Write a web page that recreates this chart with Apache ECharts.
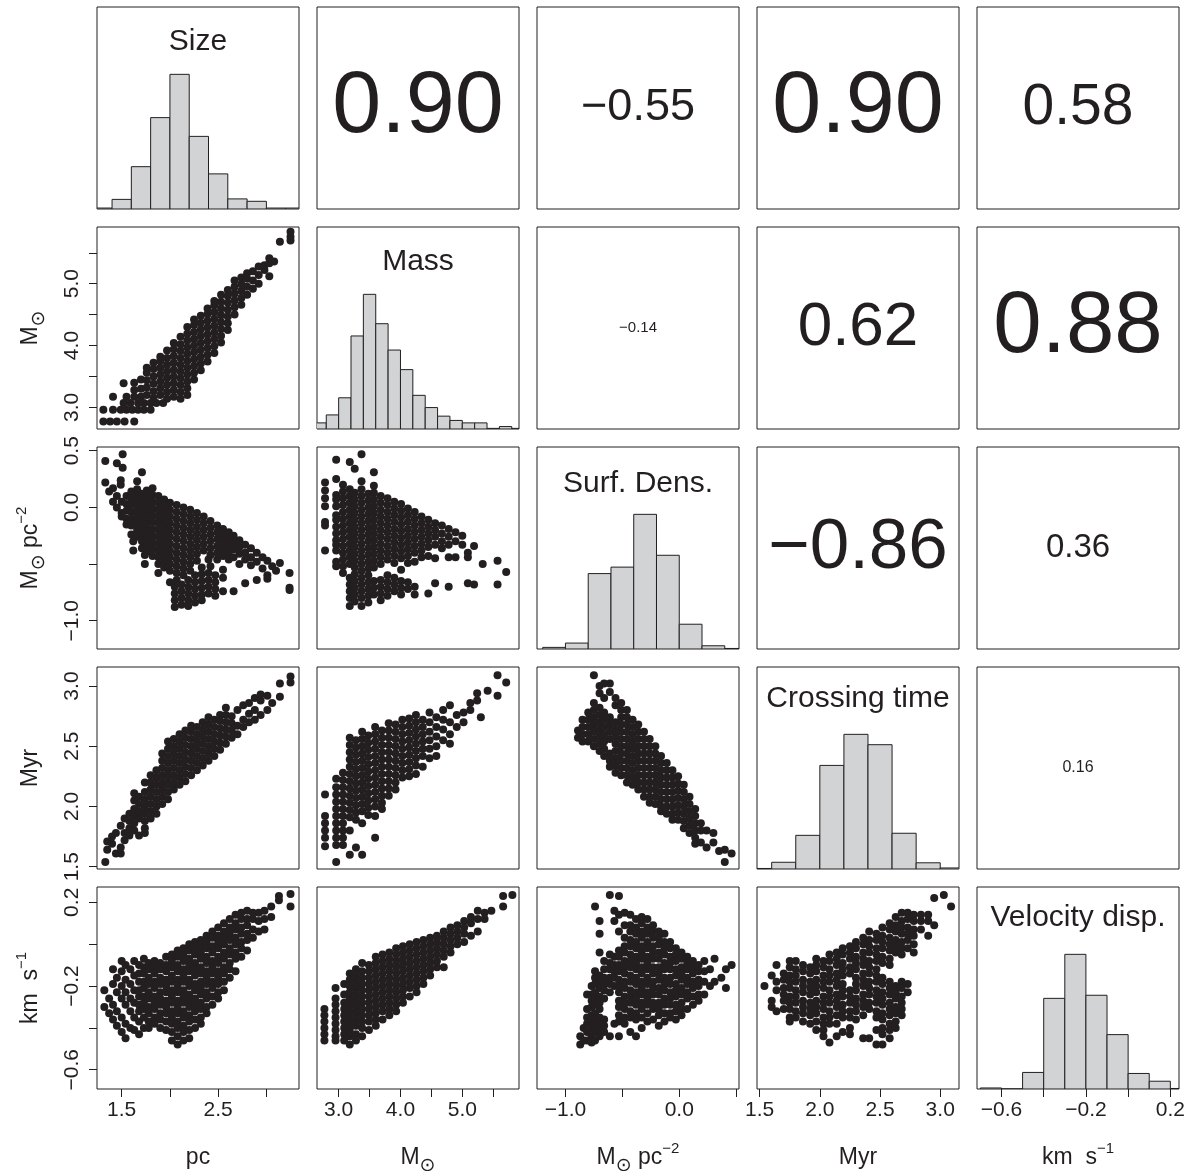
<!DOCTYPE html>
<html>
<head>
<meta charset="utf-8">
<script src="https://cdn.jsdelivr.net/npm/echarts@6/dist/echarts.min.js"></script>
<style>
  html, body { margin: 0; padding: 0; background: #fff; }
  #chart { width: 1187px; height: 1171px; }
</style>
</head>
<body>
<div id="chart"></div>
<script>
// ---- data ----
const varNames = ['Size', 'Mass', 'Surf. Dens.', 'Crossing time', 'Velocity disp.'];

// axis value ranges (x along columns, y along rows)
const xRanges = [[1.244, 3.338], [2.65, 5.917], [-1.25, 0.525], [1.478, 3.156], [-0.716, 0.241]];
const yRanges = [[1.244, 3.338], [2.65, 5.917], [-1.25, 0.533], [1.481, 3.158], [-0.692, 0.273]];

const tickValues = [[1.5, 2, 2.5, 3], [3, 3.5, 4, 4.5, 5, 5.5], [-1, -0.5, 0, 0.5], [1.5, 2, 2.5, 3], [-0.6, -0.4, -0.2, 0, 0.2]];
const xTickLabels = [[1.5, 2.5], [3, 4, 5], [-1, 0], [1.5, 2, 2.5, 3], [-0.6, -0.2, 0.2]];
const yTickLabels = [[], [3, 4, 5], [-1, 0, 0.5], [1.5, 2, 2.5, 3], [-0.6, -0.2, 0.2]];

// histograms on the diagonal
const sizeEdges = [1.2, 1.4, 1.6, 1.8, 2.0, 2.2, 2.4, 2.6, 2.8, 3.0, 3.2, 3.4];
const sizeCounts = [2, 20, 88, 190, 280, 151, 73, 21, 16, 2, 2];
const massEdges = [2.6, 2.8, 3.0, 3.2, 3.4, 3.6, 3.8, 4.0, 4.2, 4.4, 4.6, 4.8, 5.0, 5.2, 5.4, 5.6, 5.8, 6.0];
const massCounts = [10, 23, 51, 152, 220, 172, 129, 97, 55, 35, 21, 14, 10, 10, 1, 4, 1];
const surfEdges = [-1.2, -1.0, -0.8, -0.6, -0.4, -0.2, 0.0, 0.2, 0.4, 0.6];
const surfCounts = [3, 11, 140, 152, 250, 174, 46, 6, 1];
const crossEdges = [1.4, 1.6, 1.8, 2.0, 2.2, 2.4, 2.6, 2.8, 3.0, 3.2];
const crossCounts = [1, 13, 65, 200, 260, 240, 69, 12, 2];
const velEdges = [-0.7, -0.6, -0.5, -0.4, -0.3, -0.2, -0.1, 0.0, 0.1, 0.2, 0.3];
const velCounts = [2, 0, 32, 175, 260, 181, 105, 30, 15, 1];

// correlation coefficients in the upper panels: [row, col, text]
const corrCells = [
  [0, 1, '0.90'], [0, 2, '−0.55'], [0, 3, '0.90'], [0, 4, '0.58'],
  [1, 2, '−0.14'], [1, 3, '0.62'], [1, 4, '0.88'],
  [2, 3, '−0.86'], [2, 4, '0.36'],
  [3, 4, '0.16']
];

// scatter points, written as columns: [x, y1, y2, ...]
const sizeMass = [
  [1.31, 2.77, 2.96], [1.38, 2.77], [1.41, 2.96, 3.17], [1.45, 2.77], [1.49, 2.96],
  [1.52, 3.07, 3.39], [1.53, 2.77], [1.55, 2.96, 3.17], [1.59, 3.07], [1.61, 2.96],
  [1.63, 2.77, 3.17, 3.28, 3.40], [1.67, 2.96, 3.07], [1.70, 3.17, 3.30, 3.45], [1.73, 2.96, 3.07],
  [1.76, 3.20, 3.32, 3.44, 3.56, 3.64], [1.80, 2.96, 3.07], [1.83, 3.15, 3.26, 3.38, 3.50, 3.62, 3.72],
  [1.86, 3.07], [1.90, 3.20, 3.31, 3.42, 3.53, 3.64, 3.75, 3.82], [1.93, 3.07],
  [1.97, 3.14, 3.25, 3.36, 3.47, 3.58, 3.69, 3.80, 3.92],
  [2.04, 3.17, 3.28, 3.39, 3.50, 3.61, 3.72, 3.83, 3.94, 4.04],
  [2.11, 3.14, 3.25, 3.36, 3.47, 3.58, 3.69, 3.80, 3.91, 4.02, 4.14],
  [2.18, 3.20, 3.31, 3.42, 3.53, 3.64, 3.75, 3.86, 3.97, 4.08, 4.19, 4.30],
  [2.25, 3.45, 3.56, 3.67, 3.78, 3.89, 4.00, 4.11, 4.22, 4.33, 4.42],
  [2.32, 3.60, 3.71, 3.82, 3.93, 4.04, 4.15, 4.26, 4.37, 4.48],
  [2.39, 3.74, 3.85, 3.96, 4.07, 4.18, 4.29, 4.40, 4.51, 4.60],
  [2.46, 3.88, 3.99, 4.10, 4.21, 4.32, 4.43, 4.54, 4.65, 4.72],
  [2.53, 4.05, 4.16, 4.27, 4.38, 4.49, 4.60, 4.71, 4.82],
  [2.60, 4.25, 4.36, 4.47, 4.58, 4.69, 4.80, 4.90],
  [2.67, 4.50, 4.62, 4.73, 4.84, 4.95, 5.05],
  [2.74, 4.66, 4.77, 4.88, 4.99, 5.10],
  [2.80, 4.82, 4.95, 5.08, 5.17], [2.86, 4.92, 5.05, 5.20], [2.92, 5.00, 5.14, 5.28],
  [2.98, 5.22, 5.30], [3.03, 5.12, 5.33, 5.41], [3.08, 5.36], [3.14, 5.68], [3.25, 5.70, 5.76, 5.84]
];

const sizeSurf = [
  [1.33, 0.41, 0.22], [1.37, 0.14], [1.41, 0.17, 0.05], [1.45, 0.39, 0.10, 0.00], [1.49, 0.24, 0.20],
  [1.51, 0.47, 0.35], [1.50, 0.05, -0.05, -0.08], [1.55, 0.10, 0.03, -0.03, -0.10, -0.15],
  [1.60, 0.14, 0.08, 0.02, -0.04, -0.10, -0.16, -0.24], [1.62, -0.30, -0.38],
  [1.66, 0.23, 0.16, 0.10, 0.04, -0.02, -0.08, -0.14, -0.20, -0.26],
  [1.71, 0.31, 0.12, 0.06, 0.00, -0.06, -0.12, -0.18, -0.24, -0.30, -0.36], [1.74, -0.42, -0.50],
  [1.76, 0.15, 0.09, 0.03, -0.03, -0.09, -0.15, -0.21, -0.27, -0.33, -0.39],
  [1.82, 0.17, 0.11, 0.05, -0.01, -0.07, -0.13, -0.19, -0.25, -0.31, -0.37, -0.43],
  [1.88, 0.10, 0.04, -0.02, -0.08, -0.14, -0.20, -0.26, -0.32, -0.38, -0.44, -0.50, -0.58],
  [1.94, 0.07, 0.01, -0.05, -0.11, -0.17, -0.23, -0.29, -0.35, -0.41, -0.47, -0.53],
  [2.00, 0.04, -0.02, -0.08, -0.14, -0.20, -0.26, -0.32, -0.38, -0.44, -0.50, -0.56, -0.66],
  [2.05, -0.70, -0.76, -0.82, -0.88],
  [2.07, 0.02, -0.04, -0.10, -0.16, -0.22, -0.28, -0.34, -0.40, -0.46, -0.52, -0.58, -0.64],
  [2.12, -0.68, -0.74, -0.80, -0.86],
  [2.14, 0.00, -0.06, -0.12, -0.18, -0.24, -0.30, -0.36, -0.42, -0.48, -0.54, -0.60],
  [2.19, -0.64, -0.70, -0.76, -0.82, -0.87],
  [2.21, -0.02, -0.08, -0.14, -0.20, -0.26, -0.32, -0.38, -0.44, -0.50, -0.56],
  [2.26, -0.60, -0.66, -0.72, -0.78, -0.84],
  [2.28, -0.05, -0.11, -0.17, -0.23, -0.29, -0.35, -0.41, -0.47],
  [2.33, -0.53, -0.59, -0.65, -0.71, -0.77, -0.82],
  [2.35, -0.08, -0.14, -0.20, -0.26, -0.32, -0.38],
  [2.40, -0.46, -0.58, -0.64, -0.70, -0.76],
  [2.42, -0.12, -0.18, -0.24, -0.30, -0.36, -0.42, -0.52],
  [2.47, -0.60, -0.66, -0.72, -0.78],
  [2.49, -0.16, -0.22, -0.28, -0.34, -0.40, -0.46],
  [2.55, -0.19, -0.25, -0.31, -0.37, -0.43, -0.55, -0.62, -0.74],
  [2.61, -0.22, -0.28, -0.34, -0.40, -0.46], [2.66, -0.25, -0.31, -0.37, -0.44, -0.74],
  [2.72, -0.29, -0.35, -0.41, -0.50], [2.78, -0.33, -0.40, -0.46, -0.67], [2.84, -0.36, -0.44, -0.51],
  [2.90, -0.40, -0.48, -0.64], [2.96, -0.44, -0.54], [3.01, -0.47, -0.60, -0.63], [3.06, -0.52],
  [3.10, -0.56], [3.14, -0.49], [3.24, -0.58, -0.71, -0.73]
];

const sizeCross = [
  [1.33, 1.54], [1.35, 1.64, 1.71], [1.40, 1.69, 1.75], [1.44, 1.61, 1.78], [1.49, 1.61, 1.66, 1.84],
  [1.53, 1.72, 1.78, 1.90], [1.58, 1.76, 1.82, 1.88, 1.94], [1.63, 1.80, 1.86, 1.92, 1.98, 2.05, 2.11],
  [1.68, 1.76, 1.90, 1.96, 2.02, 2.08], [1.74, 1.78, 1.82, 1.88, 1.94, 2.00, 2.06, 2.12, 2.20],
  [1.80, 1.90, 1.96, 2.02, 2.08, 2.14, 2.20, 2.26], [1.86, 1.94, 2.00, 2.06, 2.12, 2.18, 2.24, 2.30],
  [1.92, 2.02, 2.08, 2.14, 2.20, 2.26, 2.32, 2.38, 2.44],
  [1.98, 2.06, 2.12, 2.18, 2.24, 2.30, 2.36, 2.42, 2.48, 2.54],
  [2.04, 2.14, 2.20, 2.26, 2.32, 2.38, 2.44, 2.50, 2.56],
  [2.10, 2.18, 2.24, 2.30, 2.36, 2.42, 2.48, 2.54, 2.60],
  [2.16, 2.21, 2.27, 2.33, 2.39, 2.45, 2.51, 2.57, 2.63],
  [2.22, 2.26, 2.32, 2.38, 2.44, 2.50, 2.56, 2.62, 2.67],
  [2.28, 2.30, 2.36, 2.42, 2.48, 2.54, 2.60, 2.66], [2.34, 2.34, 2.40, 2.46, 2.52, 2.58, 2.64, 2.70],
  [2.40, 2.38, 2.44, 2.50, 2.56, 2.62, 2.68, 2.74], [2.46, 2.42, 2.48, 2.54, 2.60, 2.66, 2.72],
  [2.52, 2.47, 2.53, 2.59, 2.65, 2.71, 2.76], [2.58, 2.52, 2.58, 2.64, 2.70, 2.76, 2.82],
  [2.64, 2.57, 2.63, 2.69, 2.75], [2.70, 2.60, 2.67, 2.80], [2.76, 2.66, 2.72, 2.84],
  [2.82, 2.70, 2.77, 2.86], [2.88, 2.72, 2.80, 2.90], [2.94, 2.76, 2.88, 2.93], [3.01, 2.80, 2.92],
  [3.06, 2.86], [3.14, 2.91, 3.02], [3.25, 3.03, 3.08]
];

const sizeVel = [
  [1.32, -0.22, -0.30], [1.37, -0.26, -0.33], [1.41, -0.12, -0.19, -0.29, -0.36],
  [1.45, -0.16, -0.23, -0.32, -0.39], [1.50, -0.08, -0.13, -0.20, -0.26, -0.35, -0.42],
  [1.54, -0.10, -0.17, -0.23, -0.29, -0.38, -0.45], [1.59, -0.12, -0.19, -0.26, -0.32, -0.40],
  [1.63, -0.08, -0.15, -0.22, -0.28, -0.35, -0.41],
  [1.68, -0.10, -0.14, -0.18, -0.22, -0.25, -0.29, -0.32, -0.37, -0.43],
  [1.73, -0.07, -0.11, -0.14, -0.18, -0.21, -0.25, -0.28, -0.31, -0.35, -0.40],
  [1.78, -0.09, -0.12, -0.16, -0.19, -0.23, -0.26, -0.30, -0.33, -0.37, -0.40],
  [1.84, -0.08, -0.11, -0.14, -0.18, -0.21, -0.25, -0.28, -0.31, -0.35, -0.38],
  [1.90, -0.09, -0.12, -0.16, -0.19, -0.23, -0.26, -0.29, -0.33, -0.36, -0.40],
  [1.96, -0.06, -0.10, -0.13, -0.17, -0.20, -0.23, -0.27, -0.30, -0.33, -0.37, -0.41],
  [2.02, -0.05, -0.08, -0.11, -0.15, -0.18, -0.22, -0.25, -0.28, -0.32, -0.35, -0.38, -0.42, -0.46],
  [2.08, -0.03, -0.06, -0.10, -0.13, -0.17, -0.20, -0.23, -0.27, -0.30, -0.33, -0.37, -0.40, -0.44, -0.48],
  [2.14, -0.02, -0.05, -0.08, -0.12, -0.15, -0.18, -0.22, -0.25, -0.28, -0.32, -0.35, -0.39, -0.42, -0.46],
  [2.20, 0.00, -0.03, -0.07, -0.10, -0.13, -0.17, -0.20, -0.24, -0.27, -0.30, -0.34, -0.37, -0.41, -0.45],
  [2.26, 0.01, -0.02, -0.05, -0.09, -0.12, -0.15, -0.19, -0.22, -0.26, -0.29, -0.32, -0.36, -0.40],
  [2.32, 0.02, -0.01, -0.04, -0.07, -0.11, -0.14, -0.18, -0.21, -0.24, -0.28, -0.31, -0.35, -0.38],
  [2.38, 0.04, 0.01, -0.02, -0.06, -0.09, -0.13, -0.16, -0.19, -0.23, -0.26, -0.30, -0.33],
  [2.44, 0.06, 0.03, -0.01, -0.04, -0.08, -0.11, -0.14, -0.18, -0.21, -0.25, -0.29],
  [2.50, 0.08, 0.04, 0.01, -0.02, -0.06, -0.09, -0.13, -0.16, -0.19, -0.23, -0.26],
  [2.56, 0.10, 0.06, 0.03, 0.00, -0.04, -0.07, -0.11, -0.14, -0.18, -0.22],
  [2.62, 0.12, 0.08, 0.05, 0.02, -0.02, -0.05, -0.09, -0.12, -0.16],
  [2.68, 0.14, 0.10, 0.07, 0.03, 0.00, -0.04, -0.07, -0.13],
  [2.74, 0.15, 0.12, 0.08, 0.05, 0.01, -0.02, -0.06],
  [2.80, 0.16, 0.12, 0.09, 0.05, 0.02, -0.03], [2.86, 0.15, 0.12, 0.07, 0.03],
  [2.92, 0.15, 0.11, 0.06], [2.98, 0.16, 0.12, 0.07], [3.05, 0.18, 0.13], [3.13, 0.23, 0.21], [3.25, 0.24, 0.18]
];

const massSurf = [
  [2.78, 0.22, 0.15, 0.08, 0.01, -0.13, -0.16, -0.38],
  [2.96, 0.42, 0.25, 0.11, 0.07, 0.01, -0.07, -0.11, -0.17, -0.23, -0.29, -0.33, -0.38, -0.48, -0.52],
  [3.07, 0.20, 0.14, 0.08, 0.02, -0.04, -0.10, -0.16, -0.22, -0.28, -0.34, -0.40, -0.46, -0.52, -0.58],
  [3.18, 0.40, 0.16, 0.10, 0.04, -0.02, -0.08, -0.14, -0.20, -0.26, -0.32, -0.38, -0.44, -0.50, -0.62, -0.68, -0.74, -0.80, -0.87],
  [3.26, 0.34, 0.13, 0.07, 0.01, -0.05, -0.11, -0.17, -0.23, -0.29, -0.35, -0.41, -0.47, -0.53, -0.59, -0.65, -0.71, -0.77, -0.83],
  [3.37, 0.47, 0.23, 0.16, 0.10, 0.04, -0.02, -0.08, -0.14, -0.20, -0.26, -0.32, -0.38, -0.44, -0.50, -0.56, -0.62, -0.68, -0.74, -0.80, -0.87],
  [3.48, 0.12, 0.06, 0.00, -0.06, -0.12, -0.18, -0.24, -0.30, -0.36, -0.42, -0.48, -0.54, -0.60, -0.66, -0.72, -0.78, -0.84],
  [3.57, 0.31, 0.19, 0.13, 0.07, 0.01, -0.05, -0.11, -0.17, -0.23, -0.29, -0.35, -0.41, -0.47, -0.53, -0.65, -0.71, -0.77],
  [3.68, 0.10, 0.04, -0.02, -0.08, -0.14, -0.20, -0.26, -0.32, -0.38, -0.44, -0.50, -0.64, -0.70, -0.76, -0.82],
  [3.79, 0.08, 0.02, -0.04, -0.10, -0.16, -0.22, -0.28, -0.34, -0.40, -0.46, -0.60, -0.66, -0.72, -0.78],
  [3.90, 0.05, -0.01, -0.07, -0.13, -0.19, -0.25, -0.31, -0.37, -0.43, -0.49, -0.62, -0.68, -0.74],
  [4.01, 0.03, -0.03, -0.09, -0.15, -0.21, -0.27, -0.33, -0.39, -0.45, -0.55, -0.65, -0.71, -0.77],
  [4.12, -0.01, -0.07, -0.13, -0.19, -0.25, -0.31, -0.37, -0.43, -0.49, -0.66, -0.72],
  [4.23, -0.04, -0.10, -0.16, -0.22, -0.28, -0.34, -0.40, -0.48, -0.70, -0.77],
  [4.34, -0.08, -0.14, -0.20, -0.26, -0.32, -0.38, -0.44],
  [4.45, -0.11, -0.17, -0.23, -0.29, -0.35, -0.43, -0.76],
  [4.56, -0.14, -0.20, -0.26, -0.33, -0.45, -0.67], [4.67, -0.16, -0.23, -0.30, -0.36],
  [4.78, -0.19, -0.26, -0.33, -0.44, -0.70], [4.89, -0.22, -0.30, -0.44], [5.00, -0.25, -0.33],
  [5.09, -0.40, -0.44, -0.67], [5.19, -0.34, -0.68], [5.33, -0.50], [5.57, -0.47, -0.68], [5.71, -0.57]
];

const massCross = [
  [2.78, 2.10, 1.92, 1.86, 1.80, 1.74, 1.67],
  [2.96, 2.23, 2.16, 2.10, 2.04, 1.98, 1.92, 1.86, 1.80, 1.74, 1.68, 1.54],
  [3.07, 2.28, 2.22, 2.16, 2.10, 2.04, 1.98, 1.92, 1.86, 1.80, 1.74, 1.68],
  [3.18, 2.57, 2.51, 2.45, 2.39, 2.33, 2.27, 2.21, 2.15, 2.09, 2.03, 1.97, 1.91, 1.80, 1.60],
  [3.28, 2.55, 2.49, 2.43, 2.37, 2.31, 2.25, 2.19, 2.13, 2.07, 2.01, 1.95, 1.89, 1.66],
  [3.38, 2.62, 2.56, 2.50, 2.44, 2.38, 2.32, 2.26, 2.20, 2.14, 2.08, 2.02, 1.96, 1.86, 1.60],
  [3.48, 2.59, 2.53, 2.47, 2.41, 2.35, 2.29, 2.23, 2.17, 2.11, 2.05, 1.99, 1.93],
  [3.59, 2.66, 2.60, 2.54, 2.48, 2.42, 2.36, 2.30, 2.24, 2.18, 2.12, 2.06, 2.00, 1.92, 1.74],
  [3.70, 2.63, 2.57, 2.51, 2.45, 2.39, 2.33, 2.27, 2.21, 2.15, 2.09, 2.03, 1.98],
  [3.81, 2.69, 2.63, 2.57, 2.51, 2.45, 2.39, 2.33, 2.27, 2.21, 2.15, 2.09],
  [3.92, 2.68, 2.62, 2.56, 2.50, 2.44, 2.38, 2.32, 2.26, 2.20, 2.14],
  [4.03, 2.72, 2.66, 2.60, 2.54, 2.48, 2.42, 2.36, 2.30, 2.24],
  [4.14, 2.73, 2.67, 2.61, 2.55, 2.49, 2.43, 2.37, 2.31, 2.25],
  [4.25, 2.76, 2.70, 2.64, 2.58, 2.52, 2.46, 2.40, 2.34, 2.27],
  [4.36, 2.72, 2.66, 2.60, 2.54, 2.48, 2.42, 2.33],
  [4.47, 2.78, 2.70, 2.62, 2.55, 2.48, 2.40], [4.58, 2.74, 2.66, 2.58, 2.50, 2.42],
  [4.69, 2.80, 2.72, 2.64, 2.55], [4.80, 2.84, 2.70, 2.60, 2.52], [4.91, 2.76, 2.66],
  [5.02, 2.78, 2.70], [5.13, 2.86, 2.80], [5.24, 2.94, 2.88], [5.30, 2.74], [5.41, 2.96],
  [5.57, 3.09, 2.92], [5.71, 3.03]
];

const massVel = [
  [2.77, -0.31, -0.34, -0.37, -0.40, -0.43, -0.46],
  [2.95, -0.21, -0.26, -0.29, -0.32, -0.35, -0.38, -0.41, -0.44, -0.46],
  [3.09, -0.19, -0.24, -0.28, -0.31, -0.34, -0.37, -0.40, -0.43, -0.46],
  [3.18, -0.14, -0.17, -0.20, -0.23, -0.26, -0.29, -0.32, -0.35, -0.38, -0.41, -0.44, -0.48],
  [3.28, -0.12, -0.15, -0.18, -0.21, -0.24, -0.27, -0.30, -0.33, -0.36, -0.39, -0.43, -0.46],
  [3.38, -0.09, -0.13, -0.16, -0.19, -0.22, -0.25, -0.28, -0.31, -0.34, -0.37, -0.40, -0.44],
  [3.49, -0.10, -0.13, -0.16, -0.19, -0.22, -0.25, -0.28, -0.31, -0.34, -0.37, -0.41],
  [3.60, -0.06, -0.09, -0.12, -0.15, -0.18, -0.21, -0.24, -0.27, -0.30, -0.33, -0.36, -0.39],
  [3.71, -0.05, -0.08, -0.11, -0.14, -0.17, -0.20, -0.23, -0.26, -0.29, -0.32, -0.36],
  [3.82, -0.04, -0.07, -0.10, -0.13, -0.16, -0.19, -0.22, -0.25, -0.28, -0.31, -0.34],
  [3.93, -0.02, -0.05, -0.08, -0.11, -0.14, -0.17, -0.20, -0.23, -0.26, -0.29, -0.32],
  [4.04, -0.01, -0.04, -0.07, -0.10, -0.13, -0.16, -0.19, -0.22, -0.25, -0.28],
  [4.15, 0.00, -0.03, -0.06, -0.09, -0.12, -0.15, -0.18, -0.21, -0.25],
  [4.26, 0.01, -0.02, -0.05, -0.08, -0.11, -0.14, -0.17, -0.20, -0.23],
  [4.37, 0.02, -0.01, -0.04, -0.07, -0.10, -0.13, -0.16, -0.19],
  [4.48, 0.03, 0.00, -0.03, -0.06, -0.09, -0.12, -0.15],
  [4.59, 0.04, 0.01, -0.02, -0.05, -0.08, -0.11], [4.70, 0.06, 0.03, 0.00, -0.03, -0.06, -0.11],
  [4.81, 0.08, 0.05, 0.02, -0.01, -0.04], [4.92, 0.09, 0.06, 0.03, 0.00], [5.03, 0.11, 0.08, 0.05, 0.01],
  [5.14, 0.13, 0.10, 0.04], [5.25, 0.16, 0.12, 0.06], [5.36, 0.15, 0.12], [5.47, 0.16],
  [5.66, 0.23, 0.18], [5.81, 0.235]
];

const surfCross = [
  [-0.89, 2.63, 2.57], [-0.85, 2.72, 2.66, 2.60, 2.54], [-0.80, 2.78, 2.72, 2.66, 2.60, 2.54],
  [-0.75, 3.09, 2.86, 2.80, 2.74, 2.68, 2.62, 2.56, 2.50],
  [-0.70, 3.00, 2.94, 2.82, 2.76, 2.70, 2.64, 2.58, 2.52, 2.46],
  [-0.66, 3.02, 2.90, 2.78, 2.72, 2.66, 2.60, 2.54, 2.48, 2.42],
  [-0.61, 3.02, 2.95, 2.74, 2.68, 2.62, 2.56, 2.44, 2.38, 2.33],
  [-0.56, 2.90, 2.84, 2.70, 2.64, 2.58, 2.52, 2.46, 2.40, 2.34, 2.28],
  [-0.51, 2.86, 2.80, 2.74, 2.68, 2.62, 2.56, 2.50, 2.44, 2.38, 2.32, 2.26],
  [-0.46, 2.80, 2.74, 2.68, 2.62, 2.56, 2.50, 2.44, 2.38, 2.32, 2.26, 2.20],
  [-0.41, 2.72, 2.66, 2.60, 2.54, 2.48, 2.42, 2.36, 2.30, 2.24, 2.18],
  [-0.36, 2.68, 2.62, 2.56, 2.50, 2.44, 2.38, 2.32, 2.26, 2.20, 2.14],
  [-0.31, 2.62, 2.56, 2.50, 2.44, 2.38, 2.32, 2.26, 2.20, 2.14, 2.08],
  [-0.26, 2.56, 2.50, 2.44, 2.38, 2.32, 2.26, 2.20, 2.14, 2.08, 2.03],
  [-0.21, 2.50, 2.44, 2.38, 2.32, 2.26, 2.20, 2.14, 2.08, 2.02],
  [-0.16, 2.42, 2.36, 2.30, 2.24, 2.18, 2.12, 2.06, 2.00, 1.96],
  [-0.11, 2.36, 2.30, 2.24, 2.18, 2.12, 2.06, 2.00, 1.94],
  [-0.06, 2.30, 2.24, 2.18, 2.12, 2.06, 2.00, 1.94, 1.89],
  [-0.01, 2.25, 2.19, 2.13, 2.07, 2.01, 1.95, 1.89],
  [0.04, 2.18, 2.12, 2.06, 2.00, 1.94, 1.88, 1.82],
  [0.09, 2.08, 2.02, 1.96, 1.90, 1.84, 1.78], [0.14, 1.98, 1.92, 1.86, 1.80, 1.74, 1.69],
  [0.19, 1.86, 1.80, 1.70], [0.24, 1.80, 1.66], [0.30, 1.78, 1.70], [0.35, 1.63],
  [0.40, 1.64, 1.54], [0.46, 1.61]
];

const surfVel = [
  [-0.87, -0.48, -0.44], [-0.84, -0.40, -0.46], [-0.81, -0.24, -0.31, -0.35, -0.38, -0.42, -0.46],
  [-0.77, -0.20, -0.24, -0.27, -0.30, -0.34, -0.37, -0.40, -0.44, -0.47],
  [-0.74, 0.18, -0.13, -0.16, -0.19, -0.23, -0.26, -0.29, -0.33, -0.36, -0.39, -0.42, -0.46],
  [-0.70, 0.11, 0.05, -0.04, -0.15, -0.18, -0.21, -0.25, -0.28, -0.31, -0.35, -0.38, -0.41, -0.44],
  [-0.66, -0.08, -0.12, -0.16, -0.19, -0.22, -0.26, -0.36, -0.39, -0.42],
  [-0.61, 0.235, -0.05, -0.09, -0.12, -0.16, -0.19, -0.23, -0.44],
  [-0.57, 0.16, 0.11, -0.06, -0.10, -0.13, -0.16, -0.20, -0.38],
  [-0.53, 0.23, 0.14, 0.06, -0.03, -0.06, -0.10, -0.13, -0.17, -0.20, -0.23, -0.27, -0.30, -0.34, -0.37, -0.44],
  [-0.48, 0.15, 0.09, 0.03, -0.01, -0.04, -0.08, -0.11, -0.14, -0.18, -0.21, -0.25, -0.28, -0.31, -0.35, -0.38],
  [-0.43, 0.14, 0.09, 0.06, 0.02, -0.01, -0.05, -0.08, -0.11, -0.15, -0.18, -0.22, -0.25, -0.28, -0.32, -0.35, -0.42],
  [-0.38, 0.12, 0.08, 0.05, 0.01, -0.02, -0.06, -0.09, -0.12, -0.16, -0.19, -0.23, -0.26, -0.29, -0.33, -0.36, -0.44],
  [-0.33, 0.13, 0.10, 0.06, 0.03, -0.01, -0.04, -0.07, -0.11, -0.14, -0.18, -0.21, -0.24, -0.28, -0.31, -0.35, -0.40],
  [-0.28, 0.12, 0.08, 0.05, 0.01, -0.02, -0.06, -0.09, -0.12, -0.16, -0.19, -0.23, -0.26, -0.29, -0.33, -0.37],
  [-0.23, 0.09, 0.06, 0.03, -0.01, -0.04, -0.07, -0.11, -0.14, -0.18, -0.21, -0.24, -0.28, -0.31, -0.36],
  [-0.18, 0.06, 0.03, 0.00, -0.04, -0.07, -0.11, -0.14, -0.17, -0.21, -0.24, -0.28, -0.31, -0.34, -0.39],
  [-0.13, 0.05, 0.01, -0.02, -0.05, -0.09, -0.12, -0.16, -0.19, -0.22, -0.26, -0.29, -0.33, -0.37],
  [-0.08, 0.01, -0.02, -0.06, -0.09, -0.12, -0.16, -0.19, -0.23, -0.26, -0.29, -0.33, -0.35],
  [-0.03, -0.02, -0.05, -0.08, -0.12, -0.15, -0.19, -0.22, -0.25, -0.29, -0.32, -0.36],
  [0.02, -0.04, -0.07, -0.11, -0.14, -0.17, -0.21, -0.24, -0.28, -0.31, -0.34],
  [0.07, -0.06, -0.09, -0.12, -0.16, -0.19, -0.23, -0.26, -0.31],
  [0.12, -0.08, -0.11, -0.14, -0.18, -0.21, -0.25, -0.29],
  [0.17, -0.10, -0.13, -0.17, -0.20, -0.24, -0.27],
  [0.22, -0.08, -0.13, -0.18, -0.24], [0.27, -0.12, -0.20], [0.31, -0.07, -0.18], [0.37, -0.16],
  [0.41, -0.12, -0.21], [0.46, -0.10]
];

const crossVel = [
  [1.54, -0.20], [1.60, -0.15, -0.27, -0.30], [1.64, -0.10, -0.18, -0.22, -0.32],
  [1.70, -0.14, -0.17, -0.21, -0.24, -0.27, -0.31],
  [1.75, -0.08, -0.11, -0.15, -0.18, -0.21, -0.25, -0.28, -0.31, -0.35, -0.37],
  [1.80, -0.08, -0.12, -0.15, -0.18, -0.22, -0.25, -0.28, -0.32, -0.35],
  [1.86, -0.10, -0.13, -0.17, -0.20, -0.23, -0.27, -0.30, -0.33, -0.37],
  [1.92, -0.11, -0.14, -0.18, -0.21, -0.24, -0.28, -0.31, -0.34, -0.38],
  [1.97, -0.07, -0.10, -0.13, -0.17, -0.20, -0.23, -0.27, -0.30, -0.33, -0.37, -0.41],
  [2.03, -0.08, -0.11, -0.15, -0.18, -0.21, -0.25, -0.28, -0.31, -0.35, -0.38, -0.41, -0.44],
  [2.08, -0.05, -0.08, -0.12, -0.15, -0.18, -0.22, -0.25, -0.28, -0.32, -0.35, -0.38, -0.47],
  [2.14, -0.04, -0.07, -0.10, -0.14, -0.17, -0.20, -0.24, -0.27, -0.30, -0.34, -0.38, -0.44],
  [2.19, -0.02, -0.05, -0.09, -0.12, -0.15, -0.19, -0.22, -0.25, -0.29, -0.32, -0.35, -0.42],
  [2.25, -0.01, -0.04, -0.07, -0.11, -0.14, -0.22, -0.25, -0.28, -0.32, -0.35, -0.40, -0.43],
  [2.30, 0.01, -0.02, -0.06, -0.09, -0.12, -0.16, -0.19, -0.22, -0.26, -0.29, -0.32, -0.36],
  [2.36, 0.03, 0.00, -0.04, -0.07, -0.10, -0.14, -0.17, -0.20, -0.24, -0.27, -0.30, -0.34, -0.45],
  [2.41, 0.06, 0.02, -0.01, -0.04, -0.08, -0.11, -0.14, -0.18, -0.21, -0.24, -0.28, -0.31, -0.45],
  [2.47, 0.05, 0.02, -0.02, -0.05, -0.08, -0.12, -0.15, -0.18, -0.22, -0.25, -0.28, -0.32, -0.35, -0.41, -0.48],
  [2.52, 0.08, 0.04, 0.01, -0.02, -0.06, -0.09, -0.16, -0.19, -0.23, -0.26, -0.29, -0.33, -0.36, -0.40, -0.43, -0.48],
  [2.58, 0.10, 0.07, 0.03, 0.00, -0.03, -0.07, -0.10, -0.18, -0.21, -0.24, -0.28, -0.31, -0.34, -0.38, -0.41, -0.45],
  [2.63, 0.13, 0.09, 0.06, 0.02, -0.01, -0.04, -0.20, -0.23, -0.26, -0.30, -0.33, -0.37, -0.40],
  [2.68, 0.15, 0.11, 0.08, 0.05, 0.01, -0.02, -0.05, -0.18, -0.21, -0.25, -0.28, -0.31, -0.34],
  [2.73, 0.15, 0.12, 0.08, 0.05, 0.02, -0.02, -0.19, -0.23],
  [2.78, 0.14, 0.11, 0.07, 0.04, 0.00, -0.04], [2.84, 0.14, 0.11, 0.07], [2.90, 0.14, 0.11, 0.04],
  [2.95, 0.22, 0.09], [3.03, 0.235], [3.09, 0.18]
];

// ---- layout / style ----
const INK = '#231f20';
const BAR = '#d1d3d4';
const FONT = "'Liberation Sans', Arial, Helvetica, 'DejaVu Sans', sans-serif";
const LEFT0 = 97, TOP0 = 7, SIDE = 202, STEP = 220;
const corrFont = { '0,1': 88, '0,2': 45, '0,3': 88, '0,4': 57, '1,2': 15, '1,3': 62, '1,4': 87, '2,3': 71, '2,4': 33, '3,4': 16 };
const diagLabelDy = [35, 35, 37, 32, 31];

const hists = [
  [sizeEdges, sizeCounts], [massEdges, massCounts], [surfEdges, surfCounts],
  [crossEdges, crossCounts], [velEdges, velCounts]
];
const scatterCells = [
  [1, 0, sizeMass], [2, 0, sizeSurf], [3, 0, sizeCross], [4, 0, sizeVel],
  [2, 1, massSurf], [3, 1, massCross], [4, 1, massVel],
  [3, 2, surfCross], [4, 2, surfVel],
  [4, 3, crossVel]
];

function columnsToPoints(cols) {
  const pts = [];
  cols.forEach(c => { for (let i = 1; i < c.length; i++) pts.push([c[0], c[i]]); });
  return pts;
}
const fmt = v => (v < 0 ? '−' : '') + Math.abs(v).toFixed(1);

const grids = [], xAxes = [], yAxes = [], series = [], graphics = [];

for (let r = 0; r < 5; r++) {
  for (let c = 0; c < 5; c++) {
    const left = LEFT0 + STEP * c, top = TOP0 + STEP * r;
    grids.push({
      left: left, top: top, width: SIDE, height: SIDE,
      show: true, borderColor: INK, borderWidth: 1, backgroundColor: 'transparent',
      outerBoundsMode: 'none', containLabel: false
    });
    const showX = r === 4, showY = c === 0 && r > 0;
    const idx = grids.length - 1;
    xAxes.push({
      gridIndex: idx, type: 'value', min: xRanges[c][0], max: xRanges[c][1],
      show: showX, position: 'bottom',
      axisLine: { show: false, onZero: false },
      splitLine: { show: false },
      axisTick: { show: true, length: 8, lineStyle: { color: INK, width: 1 }, customValues: tickValues[c] },
      axisLabel: {
        customValues: xTickLabels[c], formatter: fmt, color: INK,
        fontSize: 21, fontFamily: FONT, margin: 11
      }
    });
    const yr = r === c ? [0, Math.max.apply(null, hists[c][1]) * 1.5] : yRanges[r];
    yAxes.push({
      gridIndex: idx, type: 'value', min: yr[0], max: yr[1],
      show: showY, position: 'left',
      axisLine: { show: false, onZero: false },
      splitLine: { show: false },
      axisTick: { show: true, length: 8, lineStyle: { color: INK, width: 1 }, customValues: tickValues[r] },
      axisLabel: {
        customValues: yTickLabels[r], formatter: fmt, color: INK,
        fontSize: 21, fontFamily: FONT, margin: 14, rotate: 90
      }
    });

    if (r === c) {
      const edges = hists[c][0], counts = hists[c][1];
      series.push({
        type: 'custom', xAxisIndex: idx, yAxisIndex: idx, clip: true, silent: true,
        encode: { x: [0, 1], y: 2 },
        data: counts.map((n, k) => [edges[k], edges[k + 1], n]),
        renderItem: function (params, api) {
          const p0 = api.coord([api.value(0), 0]);
          const p1 = api.coord([api.value(1), api.value(2)]);
          return {
            type: 'rect',
            shape: { x: p0[0], y: p1[1], width: p1[0] - p0[0], height: p0[1] - p1[1] },
            style: { fill: BAR, stroke: INK, lineWidth: 1 }
          };
        }
      });
      graphics.push({
        type: 'text', x: left + SIDE / 2, y: top + diagLabelDy[c], silent: true,
        style: { text: varNames[c], fontSize: 30, fontFamily: FONT, fill: INK, align: 'center', verticalAlign: 'middle' }
      });
    }
  }
}

scatterCells.forEach(([r, c, cols]) => {
  const idx = r * 5 + c;
  series.push({
    type: 'scatter', xAxisIndex: idx, yAxisIndex: idx, silent: true,
    symbol: 'circle', symbolSize: 8,
    itemStyle: { color: INK, opacity: 1, borderWidth: 0 },
    data: columnsToPoints(cols)
  });
});

corrCells.forEach(([r, c, txt]) => {
  graphics.push({
    type: 'text', x: LEFT0 + STEP * c + SIDE / 2, y: TOP0 + STEP * r + SIDE / 2, silent: true,
    style: { text: txt, fontSize: corrFont[r + ',' + c], fontFamily: FONT, fill: INK, align: 'center', verticalAlign: 'middle' }
  });
});

// axis titles (units) with sub/superscripts
const richBase = {
  m: { fontSize: 23, fontFamily: FONT, fill: INK, lineHeight: 34, verticalAlign: 'middle' },
  o: { fontSize: 19, fontFamily: FONT, fill: INK, lineHeight: 22, verticalAlign: 'bottom' },
  s: { fontSize: 15, fontFamily: FONT, fill: INK, lineHeight: 15, verticalAlign: 'top' }
};
const unitTexts = ['{m|pc}', '{m|M}{o|⊙}', '{m|M}{o|⊙}{m| pc}{s|−2}', '{m|Myr}', '{m|km  s}{s|−1}'];
for (let c = 0; c < 5; c++) {
  graphics.push({
    type: 'text', x: LEFT0 + STEP * c + SIDE / 2, y: 1158, silent: true,
    style: { text: unitTexts[c], rich: richBase, align: 'center', verticalAlign: 'middle' }
  });
}
for (let r = 1; r < 5; r++) {
  graphics.push({
    type: 'text', x: 31, y: TOP0 + STEP * r + SIDE / 2, rotation: Math.PI / 2, silent: true,
    style: { text: unitTexts[r], rich: richBase, align: 'center', verticalAlign: 'middle' }
  });
}

const chart = echarts.init(document.getElementById('chart'), null, { renderer: 'canvas' });
chart.setOption({
  animation: false,
  backgroundColor: '#ffffff',
  grid: grids,
  xAxis: xAxes,
  yAxis: yAxes,
  series: series,
  graphic: graphics
});
</script>
</body>
</html>
